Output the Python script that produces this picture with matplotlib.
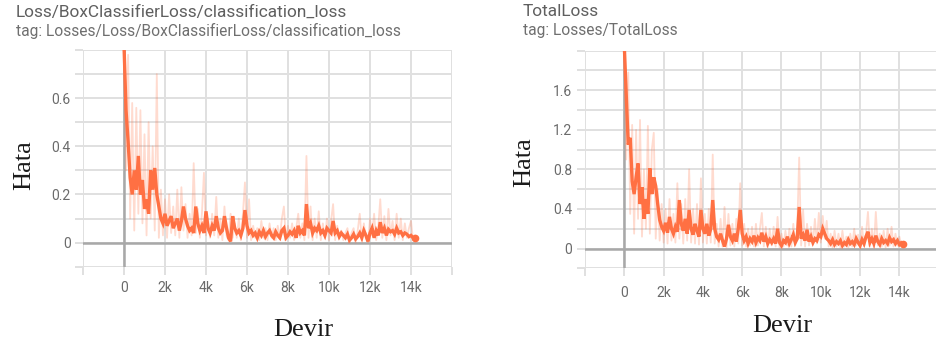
import numpy as np
import matplotlib
matplotlib.use("Agg")
import matplotlib.pyplot as plt

# ---- data: loss curves logged every 100 training steps ----
cls_smooth = [
    0.82, 0.55, 0.42, 0.27, 0.20, 0.30, 0.22, 0.36, 0.20, 0.26,
    0.14, 0.18, 0.12, 0.30, 0.22, 0.31, 0.20, 0.15, 0.10, 0.08,
    0.12, 0.07, 0.09, 0.11, 0.06, 0.08, 0.10, 0.05, 0.09, 0.15,
    0.10, 0.07, 0.05, 0.06, 0.04, 0.15, 0.08, 0.05, 0.07, 0.04,
    0.13, 0.06, 0.04, 0.07, 0.05, 0.11, 0.06, 0.04, 0.05, 0.11,
    0.06, 0.02, 0.005, 0.11, 0.06, 0.04, 0.05, 0.03, 0.06, 0.135,
    0.07, 0.04, 0.05, 0.03, 0.04, 0.02, 0.045, 0.03, 0.05, 0.025,
    0.04, 0.05, 0.03, 0.02, 0.045, 0.03, 0.02, 0.05, 0.06, 0.02,
    0.03, 0.045, 0.035, 0.05, 0.02, 0.07, 0.04, 0.05, 0.03, 0.16,
    0.06, 0.08, 0.04, 0.06, 0.05, 0.07, 0.04, 0.05, 0.03, 0.06,
    0.05, 0.04, 0.09, 0.04, 0.05, 0.025, 0.04, 0.03, 0.02, 0.035,
    0.01, 0.02, 0.035, 0.015, 0.025, 0.04, 0.02, 0.05, 0.03, 0.005,
    0.04, 0.06, 0.02, 0.05, 0.03, 0.085, 0.04, 0.06, 0.03, 0.055,
    0.045, 0.05, 0.035, 0.06, 0.04, 0.045, 0.03, 0.04, 0.035, 0.025,
    0.03, 0.02, 0.02,
]
cls_raw = [
    0.85, 0.30, 0.78, 0.10, 0.58, 0.05, 0.56, 0.12, 0.55, 0.08,
    0.45, 0.03, 0.50, 0.10, 0.40, 0.05, 0.70, 0.02, 0.22, 0.03,
    0.18, 0.02, 0.20, 0.04, 0.15, 0.03, 0.22, 0.02, 0.23, 0.05,
    0.16, 0.02, 0.12, 0.03, 0.33, 0.04, 0.14, 0.02, 0.12, 0.29,
    0.03, 0.10, 0.02, 0.12, 0.03, 0.19, 0.02, 0.10, 0.01, 0.15,
    0.03, 0.01, 0.12, 0.02, 0.08, 0.02, 0.10, 0.01, 0.12, 0.25,
    0.02, 0.18, 0.01, 0.07, 0.02, 0.06, 0.01, 0.09, 0.02, 0.06,
    0.01, 0.08, 0.02, 0.06, 0.01, 0.07, 0.02, 0.10, 0.15, 0.01,
    0.07, 0.02, 0.08, 0.01, 0.06, 0.12, 0.02, 0.08, 0.01, 0.36,
    0.02, 0.15, 0.01, 0.10, 0.02, 0.13, 0.01, 0.08, 0.02, 0.10,
    0.01, 0.09, 0.16, 0.01, 0.07, 0.02, 0.05, 0.01, 0.04, 0.06,
    0.00, 0.04, 0.06, 0.00, 0.05, 0.12, 0.01, 0.08, 0.02, 0.00,
    0.10, 0.03, 0.12, 0.01, 0.06, 0.18, 0.02, 0.11, 0.01, 0.14,
    0.03, 0.09, 0.01, 0.12, 0.02, 0.10, 0.01, 0.08, 0.02, 0.06,
    0.09, 0.01, 0.03,
]
total_smooth = [
    2.05, 1.55, 1.05, 1.12, 0.68, 0.55, 0.72, 0.86, 0.45, 0.62,
    0.30, 0.50, 0.35, 0.81, 0.55, 0.72, 0.63, 0.45, 0.29, 0.22,
    0.18, 0.26, 0.16, 0.32, 0.20, 0.15, 0.22, 0.17, 0.49, 0.25,
    0.18, 0.30, 0.15, 0.39, 0.20, 0.14, 0.25, 0.18, 0.12, 0.39,
    0.20, 0.15, 0.25, 0.13, 0.20, 0.49, 0.20, 0.12, 0.09, 0.15,
    0.08, 0.02, 0.10, 0.24, 0.12, 0.08, 0.15, 0.07, 0.20, 0.39,
    0.15, 0.08, 0.12, 0.05, 0.10, 0.07, 0.13, 0.06, 0.11, 0.08,
    0.16, 0.07, 0.12, 0.05, 0.09, 0.06, 0.10, 0.05, 0.20, 0.06,
    0.03, 0.08, 0.06, 0.12, 0.05, 0.09, 0.14, 0.06, 0.10, 0.42,
    0.10, 0.14, 0.08, 0.19, 0.07, 0.12, 0.06, 0.10, 0.08, 0.14,
    0.12, 0.20, 0.15, 0.10, 0.08, 0.05, 0.09, 0.04, 0.07, 0.05,
    0.08, 0.03, 0.06, 0.04, 0.09, 0.05, 0.07, 0.04, 0.10, 0.06,
    0.03, 0.09, 0.05, 0.12, 0.17, 0.06, 0.10, 0.05, 0.13, 0.07,
    0.04, 0.10, 0.06, 0.08, 0.05, 0.11, 0.07, 0.09, 0.05, 0.08,
    0.04, 0.06, 0.05,
]
total_raw = [
    2.05, 0.90, 1.78, 0.35, 1.25, 0.15, 1.20, 0.30, 1.30, 0.12,
    0.80, 0.20, 1.24, 0.15, 1.00, 1.17, 0.10, 0.60, 0.08, 0.45,
    0.06, 0.40, 0.05, 0.50, 0.08, 0.35, 0.06, 0.66, 0.10, 0.45,
    0.05, 0.50, 0.08, 0.80, 0.06, 0.40, 0.05, 0.45, 0.04, 0.71,
    0.06, 0.35, 0.05, 0.40, 0.06, 0.95, 0.05, 0.25, 0.02, 0.30,
    0.02, 0.42, 0.01, 0.35, 0.03, 0.25, 0.02, 0.30, 0.05, 0.66,
    0.03, 0.25, 0.02, 0.20, 0.03, 0.22, 0.02, 0.25, 0.03, 0.20,
    0.36, 0.02, 0.22, 0.01, 0.20, 0.03, 0.22, 0.02, 0.32, 0.01,
    0.15, 0.02, 0.18, 0.03, 0.20, 0.02, 0.25, 0.03, 0.20, 0.92,
    0.03, 0.39, 0.02, 0.25, 0.03, 0.22, 0.04, 0.30, 0.05, 0.36,
    0.06, 0.33, 0.10, 0.28, 0.02, 0.15, 0.01, 0.18, 0.02, 0.15,
    0.01, 0.18, 0.02, 0.12, 0.01, 0.15, 0.02, 0.20, 0.03, 0.14,
    0.01, 0.22, 0.02, 0.15, 0.37, 0.02, 0.20, 0.01, 0.37, 0.03,
    0.15, 0.02, 0.18, 0.01, 0.20, 0.03, 0.22, 0.02, 0.15, 0.03,
    0.12, 0.02, 0.05,
]
step_interval = 100

x_ticks = [-2000, 0, 2000, 4000, 6000, 8000, 10000, 12000, 14000, 16000]
x_labels = ["", "0", "2k", "4k", "6k", "8k", "10k", "12k", "14k", ""]

titles = ["Loss/BoxClassifierLoss/classification_loss", "TotalLoss"]
tags = ["tag: Losses/Loss/BoxClassifierLoss/classification_loss",
        "tag: Losses/TotalLoss"]

ORANGE = "#ff7043"
GRID = "#e0e0e0"
ZERO = "#a8a8a8"
TICK_TXT = "#6b6b6b"

W, H = 937, 352
fig = plt.figure(figsize=(W / 100, H / 100), dpi=100)


def px_axes(x0, y0, x1, y1):
    return fig.add_axes([x0 / W, 1 - y1 / H, (x1 - x0) / W, (y1 - y0) / H])


def draw_panel(ax, raw, smooth, ylim, ystep, ylabel_every, xpad):
    steps = np.arange(len(smooth)) * step_interval
    ax.plot(steps, raw, color=ORANGE, alpha=0.25, lw=1.3, zorder=3)
    ax.plot(steps, smooth, color=ORANGE, lw=2.4, zorder=4,
            solid_joinstyle="miter")
    ax.plot(steps[-1], smooth[-1], "o", color=ORANGE, ms=4.5, zorder=5)
    ax.set_xlim(-2000, 16000)
    ax.set_ylim(*ylim)
    n = int(round((ylim[1] - ylim[0]) / ystep))
    yt = [round(ylim[0] + i * ystep, 2) for i in range(n + 1)]
    ax.set_yticks(yt)
    ylbl = []
    for v in yt:
        k = int(round(v / ystep))
        if v >= 0 and k % ylabel_every == 0 and v < ylim[1] - 1e-9:
            ylbl.append("0" if abs(v) < 1e-9 else f"{v:g}")
        else:
            ylbl.append("")
    ax.set_yticklabels(ylbl)
    ax.set_xticks(x_ticks)
    ax.set_xticklabels(x_labels)
    for s in ax.spines.values():
        s.set_visible(False)
    ax.grid(True, color=GRID, lw=1.4, zorder=0)
    ax.set_axisbelow(True)
    ax.axhline(0, color=ZERO, lw=1.8, zorder=2)
    ax.axvline(0, color=ZERO, lw=1.8, zorder=2)
    ax.tick_params(axis="both", colors=GRID, width=1.4, length=6,
                   labelcolor=TICK_TXT, labelsize=10)
    ax.tick_params(axis="y", pad=3)
    ax.tick_params(axis="x", pad=xpad)
    for lab in ax.get_xticklabels() + ax.get_yticklabels():
        lab.set_fontfamily("Roboto")
    ax.set_facecolor("white")


ax1 = px_axes(83, 50, 452, 266.7)
draw_panel(ax1, cls_raw, cls_smooth, (-0.1, 0.8), 0.1, 2, 4)

ax2 = px_axes(585, 50.7, 938.7, 268.3)
draw_panel(ax2, total_raw, total_smooth, (-0.2, 2.0), 0.2, 2, 7)

# headers
for (tx, title, tag) in [(16, titles[0], tags[0]), (523, titles[1], tags[1])]:
    fig.text(tx / W, 1 - 12 / H, title, fontsize=12.4, color="#5f5f5f",
             family="Roboto", va="center", ha="left")
    fig.text(tx / W, 1 - 31 / H, tag, fontsize=11.2, color="#6f6f6f",
             family="Roboto", va="center", ha="left")

# axis titles
serif = "Liberation Serif"
fig.text(24 / W, 1 - 165 / H, "Hata", rotation=90, fontsize=19,
         family=serif, ha="center", va="center", color="#1a1a1a")
fig.text(524 / W, 1 - 162 / H, "Hata", rotation=90, fontsize=19,
         family=serif, ha="center", va="center", color="#1a1a1a")
fig.text(303 / W, 1 - 330 / H, "Devir", fontsize=19, family=serif,
         ha="center", va="center", color="#1a1a1a")
fig.text(782 / W, 1 - 326 / H, "Devir", fontsize=19, family=serif,
         ha="center", va="center", color="#1a1a1a")

fig.savefig("out.png", dpi=100, facecolor="white")
